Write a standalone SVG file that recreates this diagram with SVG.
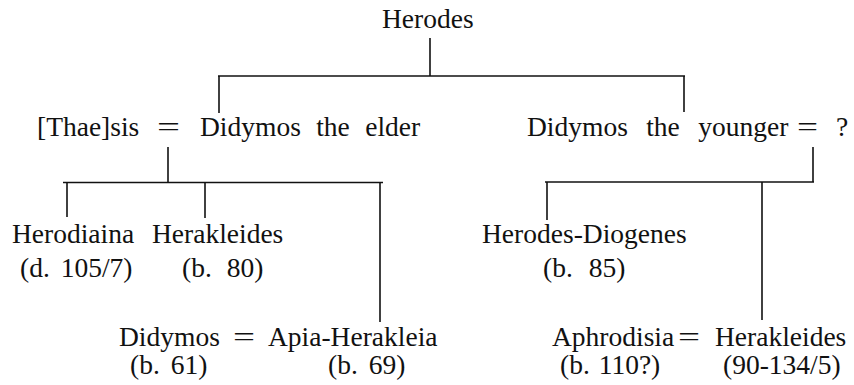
<svg xmlns="http://www.w3.org/2000/svg" width="854" height="385" viewBox="0 0 854 385">
<style>
  text { font-family: "Liberation Serif", "Times New Roman", serif; font-size: 27.5px; fill: #111; }
  .c line { stroke: #111; stroke-width: 1.6; }
</style>
<rect width="854" height="385" fill="#fff"/>
<g id="connectors" class="c">
  <line x1="430" y1="38" x2="430" y2="76"/>
  <line x1="218" y1="76" x2="685" y2="76"/>
  <line x1="219" y1="76" x2="219" y2="113"/>
  <line x1="684" y1="76" x2="684" y2="112"/>
  <line x1="168" y1="147" x2="168" y2="182"/>
  <line x1="63" y1="182.5" x2="383" y2="182.5"/>
  <line x1="67" y1="182.5" x2="67" y2="217"/>
  <line x1="205" y1="182.5" x2="205" y2="218"/>
  <line x1="380" y1="182.5" x2="380" y2="322"/>
  <line x1="813" y1="147" x2="813" y2="182"/>
  <line x1="545" y1="182" x2="814" y2="182"/>
  <line x1="547" y1="182" x2="547" y2="220"/>
  <line x1="762" y1="182" x2="762" y2="320"/>
</g>
<g id="herodes"><text x="382" y="28">Herodes</text></g>
<g id="thaesis-didymos-elder">
  <text x="37" y="136">[Thae]sis</text>
  <text x="157" y="136" textLength="23" lengthAdjust="spacingAndGlyphs">=</text>
  <text x="200" y="136" word-spacing="8.5">Didymos the elder</text>
</g>
<g id="didymos-younger">
  <text x="527" y="136" word-spacing="11.5">Didymos the younger</text>
  <text x="797" y="136" textLength="21" lengthAdjust="spacingAndGlyphs">=</text>
  <text x="836" y="136">?</text>
</g>
<g id="herodiaina">
  <text x="12" y="243">Herodiaina</text>
  <text x="20" y="277" word-spacing="4">(d. 105/7)</text>
</g>
<g id="herakleides-80">
  <text x="152" y="243">Herakleides</text>
  <text x="182" y="277" word-spacing="8">(b. 80)</text>
</g>
<g id="herodes-diogenes">
  <text x="482" y="243">Herodes-Diogenes</text>
  <text x="543" y="277" word-spacing="9">(b. 85)</text>
</g>
<g id="didymos-apia">
  <text x="119" y="346">Didymos</text>
  <text x="233" y="346" textLength="22" lengthAdjust="spacingAndGlyphs">=</text>
  <text x="268" y="346">Apia-Herakleia</text>
  <text x="130" y="374" word-spacing="4">(b. 61)</text>
  <text x="328" y="374" word-spacing="4">(b. 69)</text>
</g>
<g id="aphrodisia-herakleides">
  <text x="552" y="346">Aphrodisia</text>
  <text x="678" y="346" textLength="22" lengthAdjust="spacingAndGlyphs">=</text>
  <text x="715" y="346">Herakleides</text>
  <text x="560" y="374" word-spacing="2">(b. 110?)</text>
  <text x="723" y="374">(90-134/5)</text>
</g>
</svg>
